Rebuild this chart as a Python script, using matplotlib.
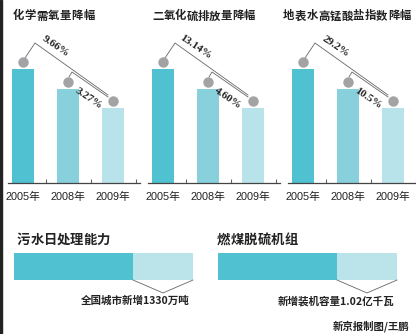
import matplotlib
matplotlib.use("Agg")
import matplotlib.pyplot as plt
from matplotlib.patches import Rectangle

# ---------------- data ----------------
years = ["2005年", "2008年", "2009年"]
panel_titles = ["化学需氧量降幅", "二氧化硫排放量降幅", "地表水高锰酸盐指数降幅"]
bar_values = [114, 94, 75]            # schematic bar heights (same in all panels)
drop_long = ["9.66%", "13.14%", "29.2%"]   # 2005 -> 2009
drop_short = ["3.27%", "4.60%", "10.5%"]   # 2008 -> 2009

h_titles = ["污水日处理能力", "燃煤脱硫机组"]
h_base = [119, 119]
h_added = [60, 60]
h_notes = ["全国城市新增1330万吨", "新增装机容量1.02亿千瓦"]
credit = "新京报制图/王鹏"

bar_colors = ["#4fc1d1", "#88d0db", "#b9e3ea"]
dark, light = "#4fc1d1", "#bae3ea"
grey = "#a3a3a5"

W, H = 416, 334
fig = plt.figure(figsize=(W / 100, H / 100), dpi=100)
fig.patch.set_facecolor("white")

CJK = ["Noto Sans CJK SC", "DejaVu Sans"]
NUM = ["Liberation Sans", "Noto Sans CJK SC"]
SERIF = ["Liberation Serif", "DejaVu Serif"]


def fx(x):
    return x / W


def fy(y):
    return 1 - y / H


# left black border
fig.patches.append(Rectangle((0, 0), fx(2), 1, transform=fig.transFigure,
                             color="#222222", zorder=10))

# ---------------- top three bar panels ----------------
spacing = 45.0
baseline = 183
top_px = 30
centers0 = [23, 163, 303]
title_x = [12, 152, 283]
title_w = [83, 103, 128]

for p in range(3):
    left_px = centers0[p] - 15
    width_px = 132
    ax = fig.add_axes([fx(left_px), fy(baseline), width_px / W,
                       (baseline - top_px) / H])
    ax.set_xlim(-15 / spacing, (width_px - 15) / spacing)
    ax.set_ylim(0, baseline - top_px)
    ax.patch.set_alpha(0)
    xs = list(range(len(years)))
    ax.bar(xs, bar_values, width=0.5, color=bar_colors, zorder=2)
    for s in ["top", "left", "right"]:
        ax.spines[s].set_visible(False)
    ax.spines["bottom"].set_color("#444444")
    ax.spines["bottom"].set_linewidth(0.9)
    ax.set_yticks([])
    ax.set_xticks(xs)
    ax.set_xticklabels(years, fontsize=7.8, family=NUM, color="#222222")
    ax.tick_params(axis="x", which="major", length=0, pad=6)
    ax.set_xticks([0.5, 1.5, 2.5], minor=True)
    ax.tick_params(axis="x", which="minor", direction="in", length=3,
                   color="#666666", width=0.8)

    # circles above bars
    cy = [v + 7 for v in bar_values]
    ax.plot(xs, cy, "o", ms=7.5, color=grey, mec="none", zorder=4,
            clip_on=False)
    # connector lines
    l1x = [0 + 2 / spacing, 12 / spacing, 2 - 5 / spacing]
    l1y = [cy[0] + 4, 140, cy[2] + 6]
    ax.plot(l1x, l1y, color="#666666", lw=0.6, zorder=3, clip_on=False)
    l2x = [1 + 1 / spacing, 1 + 4 / spacing, 2 - 5 / spacing]
    l2y = [cy[1] + 5, 111, cy[2] + 4]
    ax.plot(l2x, l2y, color="#666666", lw=0.6, zorder=3, clip_on=False)
    ax.text(0.72, 136.5, drop_long[p], rotation=-34, ha="center",
            va="center", fontsize=8, fontweight="bold", family=SERIF,
            color="#222222", rotation_mode="anchor")
    ax.text(1.45, 85, drop_short[p], rotation=-34, ha="center", va="center",
            fontsize=8, fontweight="bold", family=SERIF, color="#222222",
            rotation_mode="anchor")

    # title with letter spacing (one char per text, spread over its width)
    t = panel_titles[p]
    n = len(t)
    step = title_w[p] / n
    for k, ch in enumerate(t):
        fig.text(fx(title_x[p] + step * (k + 0.5)), fy(16), ch,
                 fontsize=8.2, fontweight="bold", family=CJK, va="center",
                 ha="center", color="#222222")

# ---------------- bottom horizontal bars ----------------
hb_left = [14, 218]
hb_title_x = [17, 217]
hb_title_w = [93, 81]
for i in range(2):
    total = h_base[i] + h_added[i]
    ax = fig.add_axes([fx(hb_left[i]), fy(280), 179 / W, 27 / H])
    ax.set_xlim(0, total)
    ax.set_ylim(-0.5, 0.5)
    ax.axis("off")
    ax.barh([0], [h_base[i]], height=1, color=dark)
    ax.barh([0], [h_added[i]], left=[h_base[i]], height=1, color=light)
    ax.plot([h_base[i], h_base[i] + h_added[i] / 2, total],
            [-0.5, -0.98, -0.5], color="#666666", lw=0.6, clip_on=False)
    ax.text(total - 3, -1.28, h_notes[i], ha="right", va="center",
            fontsize=7.6, fontweight="bold", family=CJK, color="#222222")
    t = h_titles[i]
    step = hb_title_w[i] / len(t)
    for k, ch in enumerate(t):
        fig.text(fx(hb_title_x[i] + step * (k + 0.5)), fy(240), ch,
                 fontsize=9.6, fontweight="bold", family=CJK, va="center",
                 ha="center", color="#222222")

fig.text(fx(409), fy(326), credit, fontsize=7.5, fontweight="bold",
         family=CJK, ha="right", va="center", color="#222222")

fig.savefig("out.png", dpi=100)
